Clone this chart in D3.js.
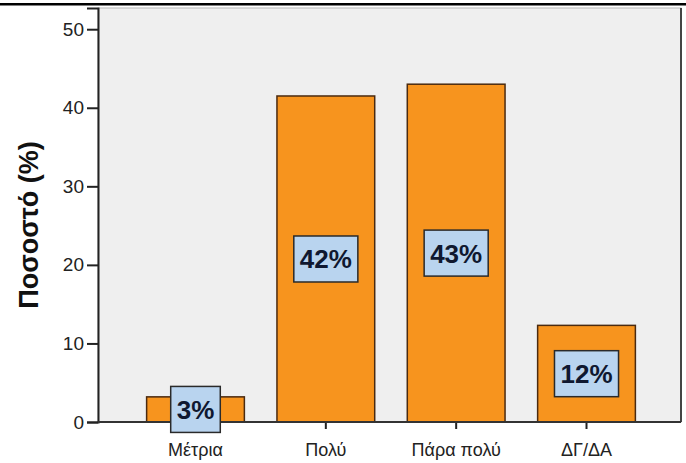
<!DOCTYPE html>
<html>
<head>
<meta charset="utf-8">
<script src="https://cdn.jsdelivr.net/npm/d3@7"></script>
<style>
  html, body { margin: 0; padding: 0; background: #fff; }
  svg { display: block; }
</style>
</head>
<body>
<svg id="chart" width="686" height="463"></svg>
<script>
const categories = ["Μέτρια", "Πολύ", "Πάρα πολύ", "ΔΓ/ΔΑ"];
const values = [3.2, 41.5, 43.0, 12.3];
const valueLabels = ["3%", "42%", "43%", "12%"];
const yTicks = [0, 10, 20, 30, 40, 50];
const yTitle = "Ποσοστό (%)";

const svg = d3.select("#chart");
const W = 686, H = 463;
const plot = { left: 98, right: 681, top: 8, bottom: 422 };

const y = d3.scaleLinear().domain([0, 52.7]).range([plot.bottom, plot.top]);
const x = d3.scaleBand().domain(categories).range([101, 681])
  .paddingInner(0.25).paddingOuter(0.35);

// top black rule
svg.append("rect").attr("x", 0).attr("y", 3).attr("width", W).attr("height", 2.5).attr("fill", "#000");

// plot background
svg.append("rect")
  .attr("x", plot.left).attr("y", plot.top)
  .attr("width", plot.right - plot.left).attr("height", plot.bottom - plot.top)
  .attr("fill", "#efefef").attr("stroke", "#b5b5b5").attr("stroke-width", 1);
svg.append("line")
  .attr("x1", plot.right).attr("x2", plot.right)
  .attr("y1", plot.top).attr("y2", plot.bottom)
  .attr("stroke", "#444").attr("stroke-width", 2);

// bars
svg.append("g").selectAll("rect").data(values).join("rect")
  .attr("x", (d, i) => x(categories[i]))
  .attr("width", x.bandwidth())
  .attr("y", d => y(d))
  .attr("height", d => y(0) - y(d))
  .attr("fill", "#f7941e")
  .attr("stroke", "#4a2a10")
  .attr("stroke-width", 1.5);

// y axis
const yAxis = d3.axisLeft(y).tickValues(yTicks).tickSize(11).tickPadding(3);
const gy = svg.append("g").attr("transform", `translate(${plot.left},0)`).call(yAxis);
gy.select(".domain").attr("stroke", "#222").attr("stroke-width", 2);
gy.selectAll(".tick line").attr("stroke", "#222").attr("stroke-width", 2);
gy.selectAll(".tick text")
  .attr("font-family", "'Liberation Sans', Arial, sans-serif")
  .attr("font-size", 19).attr("fill", "#222");

// x axis
const xAxis = d3.axisBottom(x).tickSize(7).tickPadding(14).tickSizeOuter(0);
const gx = svg.append("g").attr("transform", `translate(0,${plot.bottom})`).call(xAxis);
gx.select(".domain").remove();
gx.selectAll(".tick line").attr("stroke", "#222").attr("stroke-width", 2);
gx.selectAll(".tick text")
  .attr("font-family", "'Liberation Sans', Arial, sans-serif")
  .attr("font-size", 18).attr("fill", "#222");
svg.append("line")
  .attr("x1", plot.left).attr("x2", plot.right)
  .attr("y1", plot.bottom).attr("y2", plot.bottom)
  .attr("stroke", "#333").attr("stroke-width", 2);

// value label boxes
const lab = svg.append("g");
values.forEach((v, i) => {
  const cx = x(categories[i]) + x.bandwidth() / 2;
  const cy = y(v / 2);
  const g = lab.append("g");
  const t = g.append("text")
    .attr("x", cx).attr("y", cy + 9.5)
    .attr("text-anchor", "middle")
    .attr("font-family", "'Liberation Sans', Arial, sans-serif")
    .attr("font-weight", "bold").attr("font-size", 26)
    .attr("fill", "#0f1830")
    .text(valueLabels[i]);
  const w = t.node().getComputedTextLength() + 12;
  g.insert("rect", "text")
    .attr("x", cx - w / 2).attr("y", cy - 23)
    .attr("width", w).attr("height", 46)
    .attr("fill", "#b9d4ef").attr("stroke", "#2a2a2a").attr("stroke-width", 1.5);
});

// y title
svg.append("text")
  .attr("transform", "translate(38,225) rotate(-90)")
  .attr("text-anchor", "middle")
  .attr("font-family", "'Liberation Sans', Arial, sans-serif")
  .attr("font-weight", "bold").attr("font-size", 27)
  .attr("fill", "#111")
  .text(yTitle);
</script>
</body>
</html>
